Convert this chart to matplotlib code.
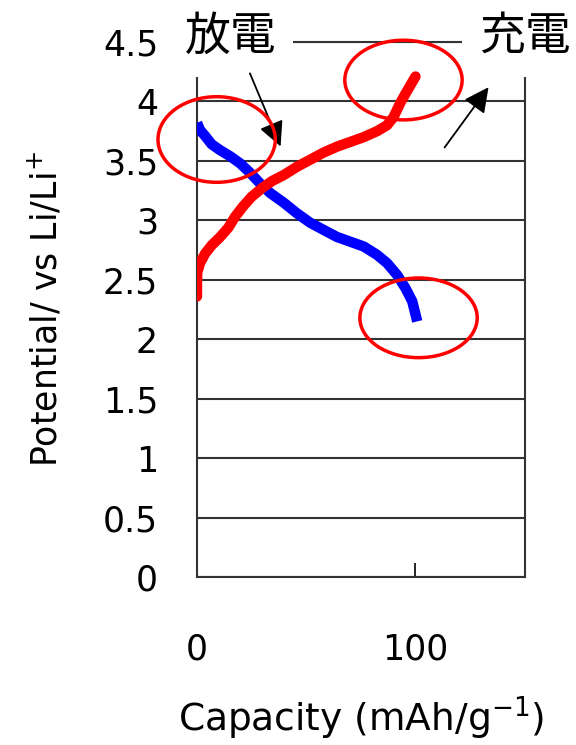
import matplotlib
matplotlib.use('Agg')
import matplotlib.pyplot as plt
from matplotlib.patches import Ellipse
import numpy as np

# charge / discharge curves (capacity mAh/g, potential V)
dis_cap = [0, 1.4, 3.7, 6.7, 10.6, 15.1, 19.7, 24.3, 28.9, 33.5, 39.6, 45.7, 51.8,
           57.9, 64.1, 70.2, 76.3, 82.4, 87, 91.6, 95.4, 98.5, 100.8]
dis_v = [3.82, 3.76, 3.71, 3.64, 3.59, 3.54, 3.48, 3.40, 3.31, 3.23, 3.15, 3.06, 2.98,
         2.92, 2.86, 2.82, 2.78, 2.71, 2.64, 2.54, 2.43, 2.32, 2.15]
chg_cap = [0, 0, 0.1, 1.4, 3.7, 6.7, 10.6, 14.4, 17.4, 21.2, 25.1, 29.7, 34.3, 39.6,
           45.7, 51.8, 57.9, 64.1, 70.2, 76.3, 82.4, 87, 90, 93.1, 96.2, 100]
chg_v = [2.36, 2.47, 2.56, 2.64, 2.72, 2.79, 2.86, 2.94, 3.03, 3.12, 3.20, 3.27, 3.33, 3.38,
         3.45, 3.51, 3.57, 3.62, 3.66, 3.70, 3.75, 3.80, 3.87, 3.99, 4.09, 4.21]

# circled regions: centre x, centre y, width, height (data units)
ring_x = [9.0, 94.5, 101.4]
ring_y = [3.68, 4.18, 2.18]
ring_w = [53.7, 53.7, 53.7]
ring_h = [0.72, 0.67, 0.67]

yticks = [0, 0.5, 1, 1.5, 2, 2.5, 3, 3.5, 4, 4.5]
ytick_labels = ['0', '0.5', '1', '1.5', '2', '2.5', '3', '3.5', '4', '4.5']
xticks = [0, 100]

jp = ['Noto Sans CJK JP', 'DejaVu Sans']

fig = plt.figure(figsize=(5.76, 7.45), dpi=100)
ax = fig.add_axes([0.342, 0.2255, 0.569, 0.7181])

ax.plot(dis_cap, dis_v, color='#0000ff', lw=7.5, solid_capstyle='butt', solid_joinstyle='round', zorder=3)
ax.plot(chg_cap, chg_v, color='#ff0000', lw=7.5, solid_capstyle='round', solid_joinstyle='round', zorder=3)

for cx, cy, w, h in zip(ring_x, ring_y, ring_w, ring_h):
    ax.add_patch(Ellipse((cx, cy), w, h, fill=False, edgecolor='#ff0000', lw=2.5,
                         clip_on=False, zorder=6))

ax.set_xlim(0, 150)
ax.set_ylim(0, 4.5)
ax.set_yticks(yticks)
ax.set_yticklabels(ytick_labels)
ax.set_xticks(xticks)
ax.yaxis.grid(True, color='#333333', lw=1.5)
ax.set_axisbelow(True)
ax.tick_params(axis='y', length=0, pad=28, labelsize=25)
ax.tick_params(axis='x', direction='in', length=10, width=1.2, pad=40, labelsize=25)
for side in ['left', 'bottom', 'right', 'top']:
    ax.spines[side].set_linewidth(1.5)
    ax.spines[side].set_color('#333333')

ax.set_ylabel('Potential/ vs Li/Li$^{+}$', fontsize=25, labelpad=28)
ax.set_xlabel('Capacity (mAh/g$^{-1}$)', fontsize=27, labelpad=20)

# labels sit on white boxes that hide the top of the frame
ax.text(0.401, 0.951, '放電', transform=fig.transFigure, family=jp, fontsize=33,
        ha='center', va='center', zorder=5,
        bbox=dict(facecolor='white', edgecolor='none', pad=12))
ax.text(0.911, 0.951, '充電', transform=fig.transFigure, family=jp, fontsize=33,
        ha='center', va='center', zorder=5,
        bbox=dict(facecolor='white', edgecolor='none', pad=12))

ax.annotate('', xy=(0.489, 0.800), xytext=(0.432, 0.905), xycoords='figure fraction',
            arrowprops=dict(arrowstyle='-|>', color='black', lw=1.3, mutation_scale=38), zorder=5)
ax.annotate('', xy=(0.851, 0.886), xytext=(0.769, 0.799), xycoords='figure fraction',
            arrowprops=dict(arrowstyle='-|>', color='black', lw=1.3, mutation_scale=38), zorder=5)

plt.savefig('out.png', dpi=100)
